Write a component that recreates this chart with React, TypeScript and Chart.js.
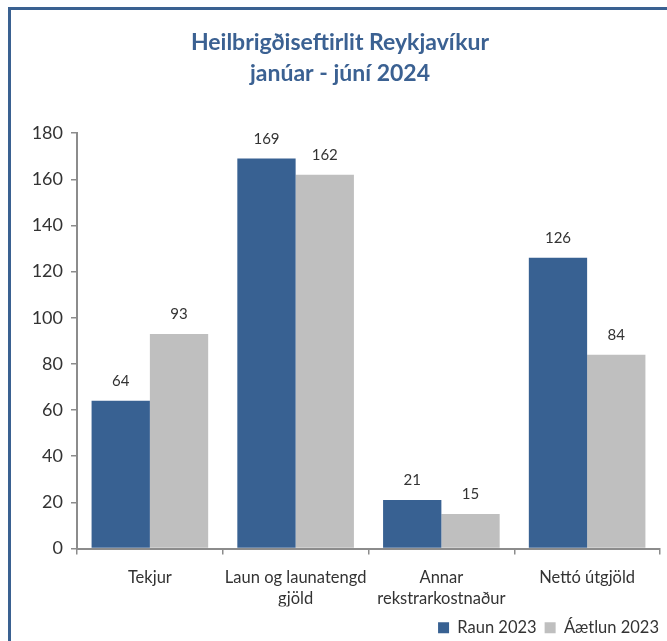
import React, { useEffect, useRef } from "react";
import { Chart, registerables } from "chart.js";

Chart.register(...registerables);

const categories: (string | string[])[] = [
  "Tekjur",
  ["Laun og launatengd", "gjöld"],
  ["Annar", "rekstrarkostnaður"],
  "Nettó útgjöld",
];
const raun2023 = [64, 169, 21, 126];
const aaetlun2023 = [93, 162, 15, 84];
const seriesNames = ["Raun 2023", "Áætlun 2023"];
const titleLines = ["Heilbrigðiseftirlit Reykjavíkur", "janúar - júní 2024"];

const BLUE = "#386192";
const GRAY = "#BFBFBF";
const FONT = "Lato, 'Open Sans', sans-serif";

const valueLabels = {
  id: "valueLabels",
  afterDatasetsDraw(chart: any) {
    const ctx = chart.ctx;
    ctx.save();
    ctx.font = `15px ${FONT}`;
    ctx.fillStyle = "#333333";
    ctx.textAlign = "center";
    ctx.textBaseline = "bottom";
    chart.data.datasets.forEach((ds: any, i: number) => {
      const meta = chart.getDatasetMeta(i);
      meta.data.forEach((bar: any, j: number) => {
        ctx.fillText(String(ds.data[j]), bar.x, bar.y - 12);
      });
    });
    ctx.restore();
  },
};

const shiftLegend = {
  id: "shiftLegend",
  afterLayout(chart: any) {
    if (chart.legend) {
      chart.legend.left += 7;
      chart.legend.right += 7;
      chart.legend.top += 5;
      chart.legend.bottom += 5;
    }
  },
};

export default function App() {
  const ref = useRef<HTMLCanvasElement>(null);
  useEffect(() => {
    const chart = new Chart(ref.current!, {
      type: "bar",
      data: {
        labels: categories,
        datasets: [
          { label: seriesNames[0], data: raun2023, backgroundColor: BLUE, categoryPercentage: 0.8, barPercentage: 1.0 },
          { label: seriesNames[1], data: aaetlun2023, backgroundColor: GRAY, categoryPercentage: 0.8, barPercentage: 1.0 },
        ],
      },
      options: {
        animation: false,
        responsive: false,
        maintainAspectRatio: false,
        layout: { padding: { left: 20, right: 7, top: 27, bottom: 0 } },
        plugins: {
          title: {
            display: true,
            text: titleLines,
            color: "#3B6192",
            font: { family: FONT, size: 23, weight: "bold", lineHeight: 1.35 },
            padding: { top: 0, bottom: 44 },
          },
          legend: {
            display: true,
            position: "bottom",
            align: "end",
            labels: {
              boxWidth: 11,
              boxHeight: 11,
              color: "#333333",
              font: { family: FONT, size: 16.5 },
              padding: 8,
            },
          },
          tooltip: { enabled: false },
        },
        scales: {
          x: {
            offset: true,
            grid: { display: true, drawOnChartArea: false, drawTicks: true, tickLength: 6, color: "#8C8C8C", lineWidth: 1.5, offset: true },
            border: { color: "#8C8C8C", width: 2 },
            ticks: { color: "#333333", font: { family: FONT, size: 16.5, lineHeight: 1.3 }, padding: 12, maxRotation: 0, autoSkip: false },
            afterFit: (scale: any) => { scale.height = 58; },
          },
          y: {
            min: 0,
            max: 180,
            grid: { display: true, drawOnChartArea: false, drawTicks: true, tickLength: 6, color: "#8C8C8C", lineWidth: 1.5 },
            border: { color: "#8C8C8C", width: 2 },
            ticks: { stepSize: 20, color: "#333333", font: { family: FONT, size: 18 }, padding: 8 },
            afterFit: (scale: any) => { scale.width = 57; },
          },
        },
      },
      plugins: [valueLabels, shiftLegend],
    });
    return () => chart.destroy();
  }, []);

  return (
    <div style={{ position: "absolute", left: 0, top: 0, width: 667, height: 641, background: "#fff", overflow: "hidden" }}>
      <div style={{ position: "absolute", left: 8, top: 7, width: 700, height: 700, borderTop: "3px solid #3A6191", borderLeft: "3px solid #3A6191", boxSizing: "border-box" }} />
      <canvas ref={ref} width={667} height={641} style={{ position: "absolute", left: 0, top: 0, width: 667, height: 641 }} />
    </div>
  );
}
